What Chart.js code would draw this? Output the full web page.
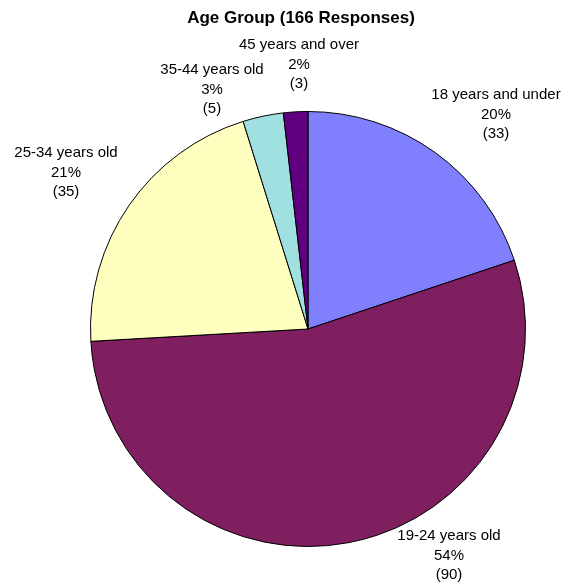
<!DOCTYPE html>
<html>
<head>
<meta charset="utf-8">
<script src="https://cdn.jsdelivr.net/npm/chart.js@4/dist/chart.umd.min.js"></script>
<style>
html,body{margin:0;padding:0;background:#fff;}
#wrap{width:568px;height:587px;position:relative;}
</style>
</head>
<body>
<div id="wrap"><canvas id="c" width="568" height="587"></canvas></div>
<script>
const categories = ["18 years and under", "19-24 years old", "25-34 years old", "35-44 years old", "45 years and over"];
const responses = [33, 90, 35, 5, 3];
const percents = ["20%", "54%", "21%", "3%", "2%"];
const colors = ["#8080FF", "#7F1F5F", "#FFFFC0", "#A0E0E0", "#600080"];
const titleText = "Age Group (166 Responses)";
// label block placement (centre x, first line y) - layout only
const labelPlacement = [[496, 95], [449, 536], [66, 153], [212, 70], [299, 45]];

const labelPlugin = {
  id: 'labels',
  afterDraw(chart) {
    const ctx = chart.ctx;
    ctx.save();
    ctx.fillStyle = '#000';
    ctx.textAlign = 'center';
    ctx.textBaseline = 'middle';
    ctx.font = 'bold 17px "Liberation Sans", Arial, sans-serif';
    ctx.fillText(titleText, 301, 18);
    ctx.font = '15px "Liberation Sans", Arial, sans-serif';
    categories.forEach((c, i) => {
      const [x, y] = labelPlacement[i];
      const lines = [c, percents[i], '(' + responses[i] + ')'];
      lines.forEach((t, j) => ctx.fillText(t, x, y + j * 19.5));
    });
    ctx.restore();
  }
};

new Chart(document.getElementById('c'), {
  type: 'pie',
  data: {
    labels: categories,
    datasets: [{
      data: responses,
      backgroundColor: colors,
      borderColor: '#000',
      borderWidth: 1
    }]
  },
  options: {
    responsive: false,
    animation: false,
    layout: { padding: { left: 90, right: 42, top: 111, bottom: 40 } },
    plugins: { legend: { display: false }, tooltip: { enabled: false }, title: { display: false } }
  },
  plugins: [labelPlugin]
});
</script>
</body>
</html>
